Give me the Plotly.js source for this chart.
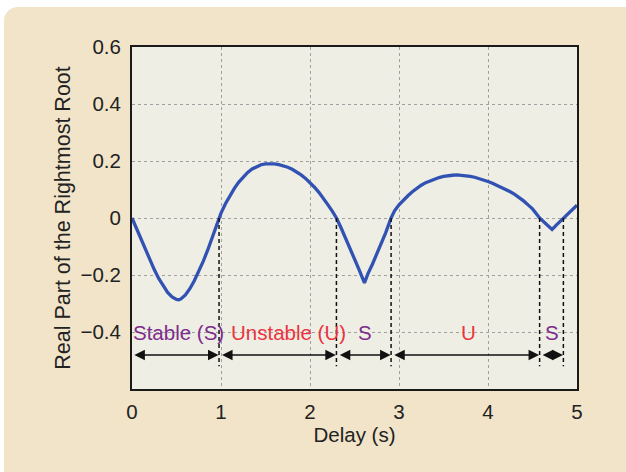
<!DOCTYPE html>
<html>
<head>
<meta charset="utf-8">
<script src="https://cdn.plot.ly/plotly-3.0.1.min.js"></script>
<style>
  html, body { margin: 0; padding: 0; background: #ffffff; }
  #bg { position: absolute; left: 4px; top: 7px; width: 640px; height: 480px; background: #F1E4C9; border-radius: 14px; }
  #chart { position: absolute; left: 0; top: 0; width: 626px; height: 472px; }
</style>
</head>
<body>
<div id="bg"></div>
<div id="chart"></div>
<script>
// Delay (s)
const delay = [0, 0.05, 0.1, 0.15, 0.2, 0.25, 0.3, 0.35, 0.4, 0.45, 0.5, 0.525, 0.55, 0.6, 0.65, 0.7, 0.75, 0.8, 0.85, 0.9, 0.95, 0.978,
  1.0, 1.05, 1.1, 1.15, 1.2, 1.25, 1.3, 1.35, 1.4, 1.45, 1.5, 1.55, 1.6, 1.65, 1.7, 1.75, 1.8, 1.85, 1.9, 1.95,
  2.0, 2.05, 2.1, 2.15, 2.2, 2.25, 2.297, 2.35, 2.4, 2.45, 2.5, 2.55, 2.612, 2.65, 2.7, 2.75, 2.8, 2.85, 2.911, 2.95,
  3.0, 3.05, 3.1, 3.15, 3.2, 3.25, 3.3, 3.35, 3.4, 3.45, 3.5, 3.55, 3.6, 3.65, 3.7, 3.75, 3.8, 3.85, 3.9, 3.95,
  4.0, 4.05, 4.1, 4.15, 4.2, 4.25, 4.3, 4.35, 4.4, 4.45, 4.5, 4.55, 4.58, 4.65, 4.72, 4.77, 4.82, 4.847, 4.9, 4.95, 5.0];
// Real part of the rightmost root
const realPart = [0, -0.037, -0.075, -0.112, -0.148, -0.181, -0.212, -0.239, -0.261, -0.277, -0.286, -0.287, -0.284, -0.27, -0.248, -0.22, -0.187, -0.152, -0.113, -0.072, -0.028, 0,
  0.017, 0.05, 0.079, 0.104, 0.126, 0.145, 0.16, 0.172, 0.181, 0.187, 0.19, 0.191, 0.19, 0.187, 0.183, 0.178, 0.171, 0.162, 0.151, 0.139,
  0.125, 0.108, 0.09, 0.07, 0.047, 0.024, 0, -0.035, -0.07, -0.105, -0.142, -0.18, -0.228, -0.196, -0.163, -0.128, -0.092, -0.052, 0, 0.025,
  0.046, 0.063, 0.078, 0.092, 0.104, 0.115, 0.124, 0.131, 0.137, 0.142, 0.146, 0.149, 0.15, 0.151, 0.15, 0.149, 0.146, 0.143, 0.139, 0.134,
  0.128, 0.122, 0.115, 0.108, 0.1, 0.092, 0.083, 0.072, 0.06, 0.046, 0.032, 0.012, 0, -0.02, -0.04, -0.024, -0.009, 0, 0.014, 0.03, 0.045];

// Stability boundaries (delays where the rightmost root crosses zero)
const boundaries = [0.978, 2.297, 2.911, 4.58, 4.847];
// Region arrows [start, end]
const regionStart = [0.01, 0.995, 2.318, 2.93, 4.597];
const regionEnd   = [0.972, 2.29, 2.905, 4.574, 4.842];
// Region labels
const regionLabels = ['Stable (S)', 'Unstable (U)', 'S', 'U', 'S'];
const regionLabelX = [0.52, 1.757, 2.62, 3.78, 4.716];
const regionStable = [true, false, true, false, true];

const xTicks = [0, 1, 2, 3, 4, 5];
const xTickText = ['0', '1', '2', '3', '4', '5'];
const yTicks = [-0.4, -0.2, 0, 0.2, 0.4, 0.6];
const yTickText = ['\u22120.4', '\u22120.2', '0', '0.2', '0.4', '0.6'];

const labelY = -0.4;
const arrowY = -0.481;
const dashTop = 0;
const dashBottom = -0.52;

const FONT = 'Liberation Sans, Arial, sans-serif';
const PURPLE = '#7D2C8D';
const RED = '#EC3340';

const trace = {
  x: delay, y: realPart, type: 'scatter', mode: 'lines',
  line: { color: '#3152B2', width: 3.3 }, hoverinfo: 'skip'
};

const shapes = boundaries.map(b => ({
  type: 'line', xref: 'x', yref: 'y', x0: b, x1: b, y0: dashTop, y1: dashBottom,
  line: { color: '#111', width: 1.5, dash: '4px,3px' }
}));

const annotations = [];
regionLabels.forEach((t, i) => {
  annotations.push({
    x: regionLabelX[i], y: labelY, xref: 'x', yref: 'y', text: t, showarrow: false,
    font: { family: FONT, size: 20.5, color: regionStable[i] ? PURPLE : RED },
    xanchor: 'center', yanchor: 'middle'
  });
  annotations.push({
    x: regionEnd[i], y: arrowY, ax: regionStart[i], ay: arrowY,
    xref: 'x', yref: 'y', axref: 'x', ayref: 'y', text: '',
    showarrow: true, arrowside: 'end+start', arrowhead: 2, startarrowhead: 2,
    arrowsize: 1.4, startarrowsize: 1.4, arrowwidth: 1.5, arrowcolor: '#111',
    standoff: 0, startstandoff: 0
  });
});

const layout = {
  width: 626, height: 472,
  margin: { l: 132, r: 49, t: 47, b: 83 },
  paper_bgcolor: 'rgba(0,0,0,0)',
  plot_bgcolor: '#EEEEE4',
  showlegend: false,
  font: { family: FONT, color: '#222' },
  xaxis: {
    range: [0, 5], tickvals: xTicks, ticktext: xTickText,
    showgrid: true, gridcolor: '#A0A0A0', griddash: 'dot', gridwidth: 1,
    zeroline: false, showline: true, linecolor: '#1a1a1a', linewidth: 2, mirror: true,
    ticks: '', ticklabelstandoff: 3,
    tickfont: { family: FONT, size: 20.5, color: '#222' },
    title: { text: 'Delay (s)', font: { family: FONT, size: 20.5, color: '#222' }, standoff: 2 }
  },
  yaxis: {
    range: [-0.6, 0.6], tickvals: yTicks, ticktext: yTickText,
    showgrid: true, gridcolor: '#A0A0A0', griddash: 'dot', gridwidth: 1,
    zeroline: false, showline: true, linecolor: '#1a1a1a', linewidth: 2, mirror: true,
    ticks: '', ticklabelstandoff: 5,
    tickfont: { family: FONT, size: 20.5, color: '#222' },
    title: { text: 'Real Part of the Rightmost Root', font: { family: FONT, size: 21.5, color: '#222' }, standoff: 4 }
  },
  shapes: shapes,
  annotations: annotations
};

Plotly.newPlot('chart', [trace], layout, { displayModeBar: false, staticPlot: true });
</script>
</body>
</html>
